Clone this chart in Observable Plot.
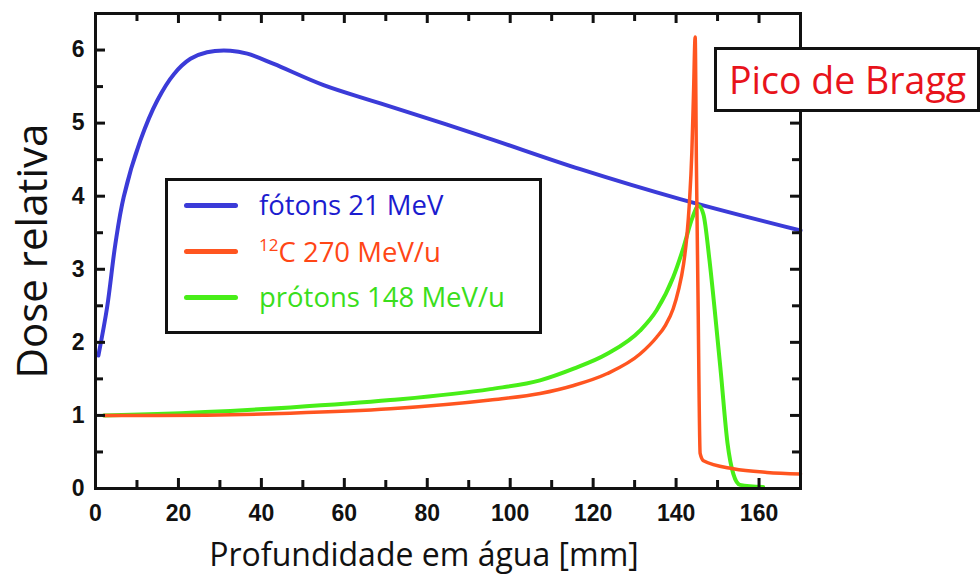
<!DOCTYPE html>
<html>
<head>
<meta charset="utf-8">
<script src="https://cdn.jsdelivr.net/npm/d3@7"></script>
<script src="https://cdn.jsdelivr.net/npm/@observablehq/plot@0.6"></script>
<style>
  html, body { margin: 0; padding: 0; background: #fff; }
  #wrap { position: relative; width: 980px; height: 578px; }
  .box { position: absolute; box-sizing: border-box; border: 3px solid #111; background: #fff; font-family: "Open Sans", sans-serif; }
  #legend { left: 165px; top: 178px; width: 377px; height: 156px; }
  .row { position: absolute; left: 0; height: 40px; display: flex; align-items: center; }
  .sw { width: 54px; height: 5px; border-radius: 3px; margin-left: 16px; margin-right: 21px; }
  .lt { font-size: 27.5px; line-height: 1; white-space: nowrap; }
  .lt sup { font-size: 17px; vertical-align: 11px; }
  #pico { left: 714px; top: 47px; width: 266px; height: 65px; color: #e8131b; font-size: 37.5px; line-height: 59px; padding-left: 12px; white-space: nowrap; }
</style>
</head>
<body>
<div id="wrap"></div>
<script>
// ---- data ----
const photonX = [0.7, 2.8, 4.8, 6.8, 10.8, 14.9, 18.9, 22.9, 26.9, 32.5, 36.6, 43.0, 55.0, 68.7, 92.8, 116.9, 141.0, 170];
const photonY = [1.82, 2.48, 3.35, 3.99, 4.76, 5.31, 5.67, 5.88, 5.97, 5.99, 5.95, 5.81, 5.52, 5.27, 4.83, 4.37, 3.96, 3.53];

const carbonX = [2.0, 14.9, 47.0, 71.1, 95.2, 107.2, 115.3, 123.3, 131.3, 135.3, 137.5, 139.3, 140.6, 141.8, 142.6, 143.2, 143.8, 144.2, 144.6, 144.9, 145.3, 145.8, 146.6, 153.8, 161.9, 170];
const carbonY = [1.0, 1.0, 1.03, 1.09, 1.21, 1.30, 1.41, 1.57, 1.84, 2.07, 2.24, 2.46, 2.72, 3.07, 3.45, 3.9, 4.6, 5.4, 6.18, 4.44, 2.57, 0.48, 0.38, 0.27, 0.22, 0.2];

const protonX = [2.0, 14.9, 47.0, 71.1, 95.2, 107.2, 115.3, 123.3, 131.3, 135.3, 139.3, 141.8, 143.9, 145.4, 146.6, 148.0, 149.3, 150.8, 152.4, 153.8, 155.4, 161];
const protonY = [1.0, 1.02, 1.11, 1.21, 1.36, 1.48, 1.64, 1.84, 2.16, 2.44, 2.89, 3.30, 3.70, 3.87, 3.75, 3.15, 2.45, 1.58, 0.62, 0.20, 0.05, 0.02];

const xTicks = [0, 20, 40, 60, 80, 100, 120, 140, 160];
const xMinor = [10, 30, 50, 70, 90, 110, 130, 150];
const yTicks = [0, 1, 2, 3, 4, 5, 6];
const yMinor = [0.5, 1.5, 2.5, 3.5, 4.5, 5.5];

const seriesNames = ["fótons 21 MeV", "12C 270 MeV/u", "prótons 148 MeV/u"];
const seriesColors = ["#3b3bd8", "#ff5520", "#48ee18"];
const textColors = ["#1c1ccf", "#ff4616", "#3ade1c"];
const xTitle = "Profundidade em água [mm]";
const yTitle = "Dose relativa";
const annotation = "Pico de Bragg";

// ---- build ----
const toRows = (xs, ys) => xs.map((x, i) => ({x, y: ys[i]}));
const photons = toRows(photonX, photonY);
const carbon = toRows(carbonX, carbonY);
const protons = toRows(protonX, protonY);

const xMax = 170, yMax = 6.5;
const tx = 10 / 73.1;   // major tick length in y units
const ty = 10 / 4.15;   // major tick length in x units
const mx = 8 / 73.1, my = 8 / 4.15;
const tickFont = "'Liberation Sans', Arial, sans-serif";

const plot = Plot.plot({
  width: 980,
  height: 578,
  marginLeft: 95,
  marginRight: 180,
  marginTop: 13,
  marginBottom: 90,
  style: {background: "transparent", fontFamily: "'Open Sans', sans-serif"},
  x: {domain: [0, xMax]},
  y: {domain: [0, yMax]},
  marks: [
    Plot.line(photons, {x: "x", y: "y", stroke: seriesColors[0], strokeWidth: 4, curve: "catmull-rom"}),
    Plot.line(protons, {x: "x", y: "y", stroke: seriesColors[2], strokeWidth: 4, curve: "monotone-x"}),
    Plot.line(carbon, {x: "x", y: "y", stroke: seriesColors[1], strokeWidth: 3.5, curve: "monotone-x"}),
    // inward ticks
    Plot.ruleX(xTicks, {x: d => d, y1: 0, y2: tx, stroke: "#111", strokeWidth: 3}),
    Plot.ruleX(xMinor, {x: d => d, y1: 0, y2: mx, stroke: "#111", strokeWidth: 3}),
    Plot.ruleX(xTicks, {x: d => d, y1: yMax, y2: yMax - tx, stroke: "#111", strokeWidth: 3}),
    Plot.ruleX(xMinor, {x: d => d, y1: yMax, y2: yMax - mx, stroke: "#111", strokeWidth: 3}),
    Plot.ruleY(yTicks, {y: d => d, x1: 0, x2: ty, stroke: "#111", strokeWidth: 3}),
    Plot.ruleY(yMinor, {y: d => d, x1: 0, x2: my, stroke: "#111", strokeWidth: 3}),
    Plot.ruleY(yTicks, {y: d => d, x1: xMax, x2: xMax - ty, stroke: "#111", strokeWidth: 3}),
    Plot.ruleY(yMinor, {y: d => d, x1: xMax, x2: xMax - my, stroke: "#111", strokeWidth: 3}),
    Plot.frame({stroke: "#111", strokeWidth: 3}),
    Plot.axisX({ticks: xTicks, tickSize: 0, tickPadding: 16, tickFormat: d3.format("d"), label: null, fontSize: 23, fontWeight: "bold", fontFamily: tickFont, fill: "#111"}),
    Plot.axisY({ticks: yTicks, tickSize: 0, tickPadding: 11, tickFormat: d3.format("d"), label: null, fontSize: 23, fontWeight: "bold", fontFamily: tickFont, fill: "#111"}),
    Plot.text([yTitle], {frameAnchor: "left", textAnchor: "middle", lineAnchor: "middle", rotate: -90, dx: -62, fontSize: 42, fill: "#111", text: d => d}),
    Plot.text([xTitle], {frameAnchor: "bottom", textAnchor: "middle", lineAnchor: "middle", dx: -24, dy: 67, fontSize: 32, fill: "#111", text: d => d})
  ]
});

const wrap = document.getElementById("wrap");
wrap.appendChild(plot);

// legend
const legend = document.createElement("div");
legend.className = "box";
legend.id = "legend";
const rowTops = [4, 50, 96];
seriesNames.forEach((name, i) => {
  const row = document.createElement("div");
  row.className = "row";
  row.style.top = rowTops[i] + "px";
  const sw = document.createElement("div");
  sw.className = "sw";
  sw.style.background = seriesColors[i];
  const t = document.createElement("span");
  t.className = "lt";
  t.style.color = textColors[i];
  if (name.startsWith("12C")) {
    t.innerHTML = "<sup>12</sup>" + name.slice(2);
  } else {
    t.textContent = name;
  }
  row.appendChild(sw);
  row.appendChild(t);
  legend.appendChild(row);
});
wrap.appendChild(legend);

const pico = document.createElement("div");
pico.className = "box";
pico.id = "pico";
pico.textContent = annotation;
wrap.appendChild(pico);
</script>
</body>
</html>
